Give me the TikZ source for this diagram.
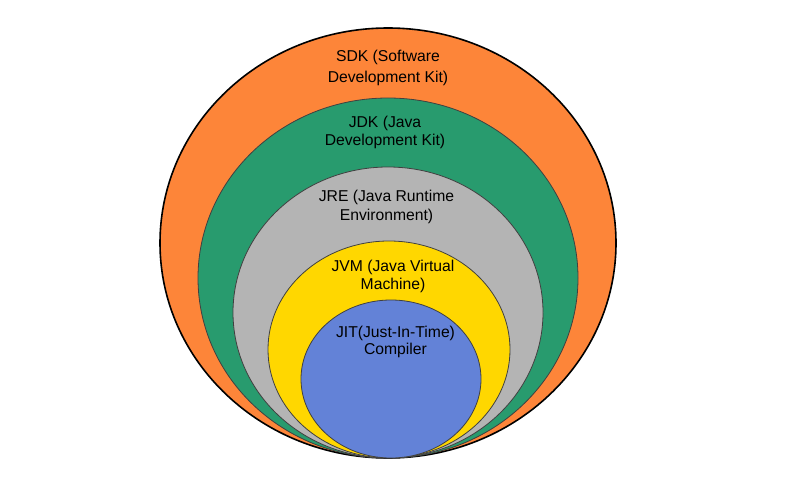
\documentclass[tikz,border=0pt]{standalone}
\usepackage{fontspec}
\setmainfont{Liberation Sans}
\usetikzlibrary{shapes.geometric,positioning}

\definecolor{sdkorange}{RGB}{253,133,57}
\definecolor{jdkgreen}{RGB}{40,155,110}
\definecolor{jregray}{RGB}{180,180,180}
\definecolor{jvmyellow}{RGB}{255,215,0}
\definecolor{jitblue}{RGB}{99,130,215}

\begin{document}
\begin{tikzpicture}[x=1pt,y=-1pt,
    layer/.style={ellipse,draw=black!75,line width=0.8pt,inner sep=0pt},
    caption/.style={align=center,font=\fontsize{15.7}{19}\selectfont}]

                \useasboundingbox (0,0) rectangle (800,486);

                \node[layer,fill=sdkorange,draw=black,line width=1.6pt,minimum width=456pt,minimum height=430pt] (sdk) at (388,243) {};

                \node[layer,fill=jdkgreen,minimum width=380pt,minimum height=360pt] (jdk) at (388,278) {};

                \node[layer,fill=jregray,minimum width=310pt,minimum height=291pt] (jre) at (388,312.5) {};

                \node[layer,fill=jvmyellow,minimum width=242pt,minimum height=217pt] (jvm) at (389,349.5) {};

                \node[layer,fill=jitblue,minimum width=180pt,minimum height=158pt] (jit) at (391,379) {};

                

                \node[caption,font=\fontsize{15.7}{21}\selectfont] (sdklabel) at (388,68) {SDK (Software\\Development Kit)};

                \node[caption,font=\fontsize{15.7}{18}\selectfont] (jdklabel) at (385,132) {JDK (Java\\Development Kit)};

                \node[caption] (jrelabel) at (386.5,207) {JRE (Java Runtime\\Environment)};

                \node[caption,font=\fontsize{15.7}{18}\selectfont] (jvmlabel) at (393,276.5) {JVM (Java Virtual\\Machine)};

                \node[caption,font=\fontsize{15.7}{17}\selectfont] (jitlabel) at (395.5,341.5) {JIT(Just-In-Time)\\Compiler};

            \end{tikzpicture}
\end{document}
